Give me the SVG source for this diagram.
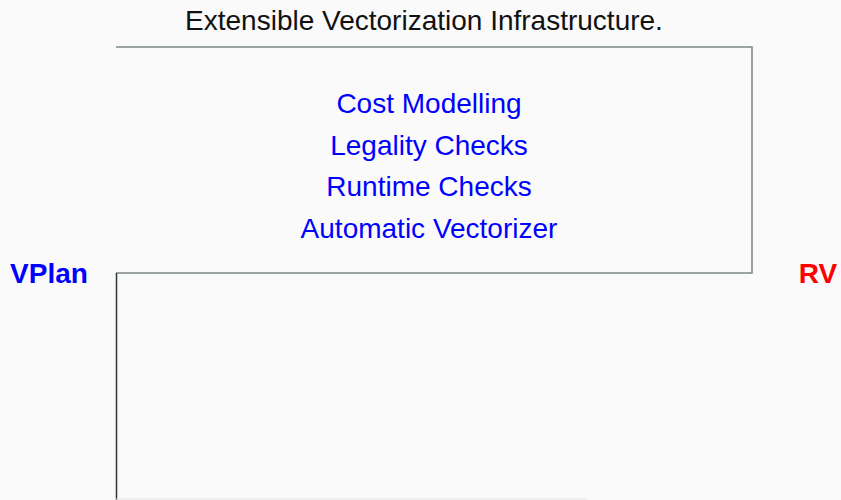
<svg xmlns="http://www.w3.org/2000/svg" width="841" height="500" viewBox="0 0 841 500">
<style>
.t{font-family:"Liberation Sans",Arial,sans-serif;text-anchor:middle;font-size:28px}
.item{fill:#0000ff}
.side{font-weight:bold}
.ln{fill:none;stroke:#7c8689;stroke-width:1.5}
</style>
<rect width="841" height="500" fill="#fafafa"/>
<g id="title"><text class="t" x="424" y="30" fill="#111">Extensible Vectorization Infrastructure.</text></g>
<g id="connectors">
<polyline class="ln" points="116,47 752,47 752,273 116,273"/>
<line x1="116.5" y1="273" x2="116.5" y2="500" stroke="#2f3538" stroke-width="1.5"/>
<line x1="116" y1="499" x2="587" y2="499" stroke="#e6e6e6" stroke-width="1"/>
</g>
<g id="features">
<text class="t item" x="429" y="113">Cost Modelling</text>
<text class="t item" x="429" y="155">Legality Checks</text>
<text class="t item" x="429" y="196">Runtime Checks</text>
<text class="t item" x="429" y="238">Automatic Vectorizer</text>
</g>
<g id="vplan"><text class="t side" x="49" y="283" fill="#0000ff">VPlan</text></g>
<g id="rv"><text class="t side" x="818" y="283" fill="#ff0000">RV</text></g>
</svg>
